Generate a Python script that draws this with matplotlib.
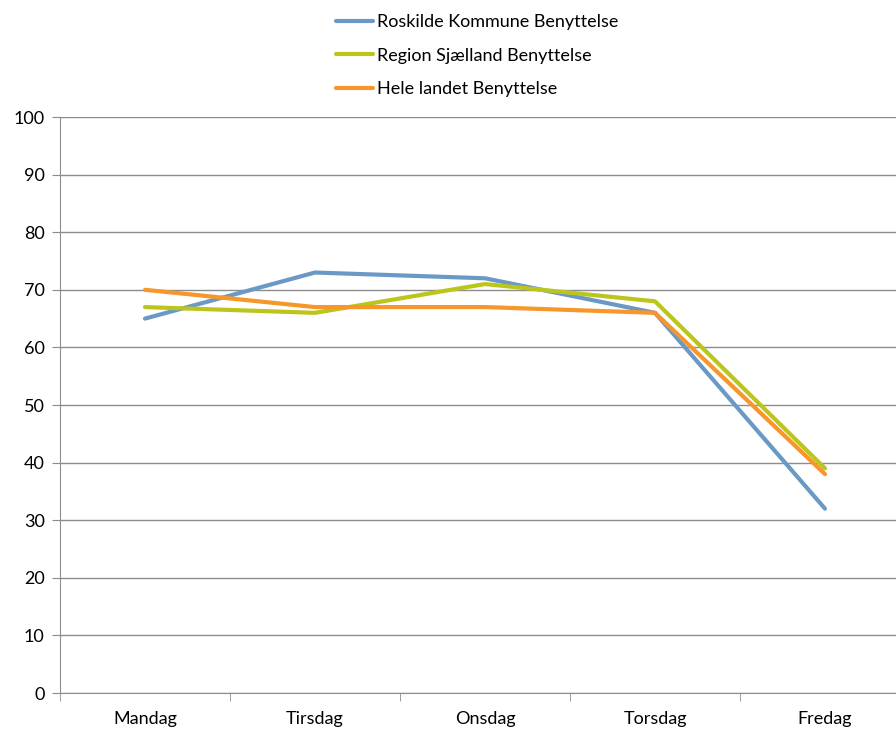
import matplotlib.pyplot as plt
from matplotlib.ticker import FixedLocator

plt.rcParams['font.family'] = ['Lato', 'DejaVu Sans']

days = ['Mandag', 'Tirsdag', 'Onsdag', 'Torsdag', 'Fredag']
roskilde = [65, 73, 72, 66, 32]
region = [67, 66, 71, 68, 39]
hele_landet = [70, 67, 67, 66, 38]
yticks = [0, 10, 20, 30, 40, 50, 60, 70, 80, 90, 100]

fig = plt.figure(figsize=(8.96, 7.29), dpi=100)
# axes runs a bit past the right edge, like the source
ax = fig.add_axes([60/896, 36/729, 850/896, 576/729])

x = range(len(days))
ax.plot(x, roskilde, color='#6A99C6', lw=3, label='Roskilde Kommune Benyttelse', solid_capstyle='round')
ax.plot(x, region, color='#BCC51C', lw=3, label='Region Sjælland Benyttelse', solid_capstyle='round')
ax.plot(x, hele_landet, color='#F7962B', lw=3, label='Hele landet Benyttelse', solid_capstyle='round')

ax.set_xlim(-0.5, len(days) - 0.5)
ax.set_ylim(0, 100)
ax.set_yticks(yticks)
ax.yaxis.grid(True, color='#8C8C8C', lw=1)
ax.set_axisbelow(True)

ax.set_xticks(list(x))
ax.set_xticklabels(days)
ax.xaxis.set_minor_locator(FixedLocator([i - 0.5 for i in range(len(days) + 1)]))
ax.tick_params(axis='x', which='major', length=0, pad=13, labelsize=13)
ax.tick_params(axis='x', which='minor', length=6, color='#8C8C8C')
ax.tick_params(axis='y', length=6, color='#8C8C8C', labelsize=13, pad=5)

for side in ['top', 'right']:
    ax.spines[side].set_visible(False)
for side in ['left', 'bottom']:
    ax.spines[side].set_color('#8C8C8C')

fig.legend(loc='upper left', bbox_to_anchor=(320/896, 1.003), frameon=False,
           fontsize=13, handlelength=2.05, handletextpad=0.22, labelspacing=0.97)

fig.savefig('out.png', dpi=100)
